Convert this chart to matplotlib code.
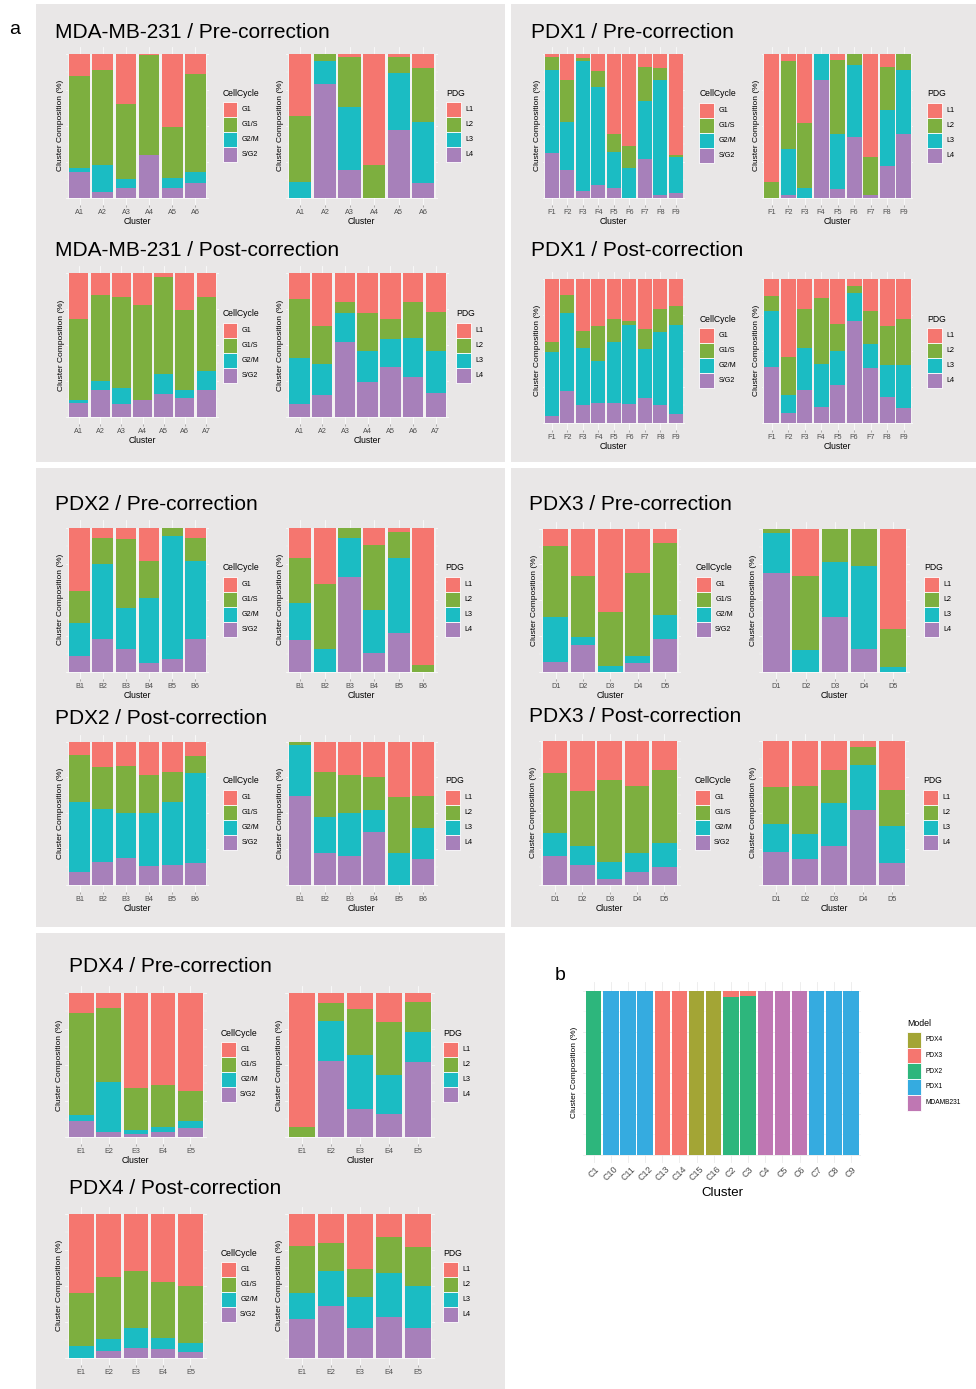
import numpy as np
import matplotlib
matplotlib.use('Agg')
import matplotlib.pyplot as plt
from matplotlib.patches import Rectangle

plt.rcParams['font.family'] = ['Liberation Sans', 'DejaVu Sans']

W, H = 976, 1389
fig = plt.figure(figsize=(W / 100, H / 100), dpi=100)
fig.patch.set_facecolor('white')

BOX = '#E9E7E7'
cc_names = ['G1', 'G1/S', 'G2/M', 'S/G2']
pdg_names = ['L1', 'L2', 'L3', 'L4']
pal4 = ['#F5766F', '#7DAF3F', '#1BBCC3', '#A780BA']

a6 = ['A1', 'A2', 'A3', 'A4', 'A5', 'A6']
a7 = a6 + ['A7']
f9 = ['F1', 'F2', 'F3', 'F4', 'F5', 'F6', 'F7', 'F8', 'F9']
b6 = ['B1', 'B2', 'B3', 'B4', 'B5', 'B6']
d5 = ['D1', 'D2', 'D3', 'D4', 'D5']
e5 = ['E1', 'E2', 'E3', 'E4', 'E5']

# composition (%) per cluster, order: G1, G1/S, G2/M, S/G2  or  L1, L2, L3, L4
mda_pre_cc = [[15, 64, 3, 18], [11, 66, 19, 4], [35, 52, 6, 7], [1, 69, 0, 30], [51, 35, 7, 7], [14, 68, 8, 10]]
mda_pre_pdg = [[43, 46, 11, 0], [0, 5, 16, 79], [2, 35, 44, 19], [77, 23, 0, 0], [2, 11, 40, 47], [10, 37, 43, 10]]
mda_post_cc = [[32, 56, 2, 10], [15, 60, 6, 19], [17, 63, 11, 9], [22, 66, 0, 12], [3, 67, 14, 16], [26, 55, 6, 13], [17, 51, 13, 19]]
mda_post_pdg = [[18, 41, 32, 9], [37, 26, 22, 15], [20, 8, 20, 52], [28, 26, 22, 24], [32, 14, 19, 35], [20, 25, 27, 28], [27, 27, 29, 17]]

pdx1_pre_cc = [[2, 9, 58, 31], [18, 29, 34, 19], [3, 2, 90, 5], [12, 11, 68, 9], [56, 12, 25, 7], [64, 15, 21, 0], [9, 24, 40, 27], [10, 8, 80, 2], [70, 2, 25, 3]]
pdx1_pre_pdg = [[89, 11, 0, 0], [5, 61, 32, 2], [48, 45, 7, 0], [0, 0, 18, 82], [4, 52, 38, 6], [0, 8, 50, 42], [72, 26, 0, 2], [9, 30, 39, 22], [0, 11, 45, 44]]
pdx1_post_cc = [[44, 7, 44, 5], [11, 13, 54, 22], [36, 12, 40, 12], [33, 24, 29, 14], [28, 16, 42, 14], [29, 3, 55, 13], [35, 14, 34, 17], [21, 16, 51, 12], [19, 13, 62, 6]]
pdx1_post_pdg = [[12, 10, 39, 39], [54, 27, 12, 7], [21, 27, 29, 23], [13, 46, 30, 11], [31, 19, 24, 26], [5, 5, 19, 71], [22, 23, 17, 38], [33, 27, 22, 18], [28, 32, 30, 10]]

pdx2_pre_cc = [[44, 22, 23, 11], [7, 18, 52, 23], [8, 48, 28, 16], [23, 26, 45, 6], [0, 6, 85, 9], [7, 16, 54, 23]]
pdx2_pre_pdg = [[21, 31, 26, 22], [39, 45, 16, 0], [0, 7, 27, 66], [12, 45, 30, 13], [3, 18, 52, 27], [95, 5, 0, 0]]
pdx2_post_cc = [[9, 33, 49, 9], [18, 29, 37, 16], [17, 33, 31, 19], [23, 27, 37, 13], [21, 21, 44, 14], [10, 12, 63, 15]]
pdx2_post_pdg = [[0, 2, 36, 62], [21, 32, 25, 22], [23, 27, 30, 20], [25, 23, 15, 37], [39, 39, 22, 0], [38, 22, 22, 18]]

pdx3_pre_cc = [[12, 50, 31, 7], [33, 43, 5, 19], [58, 38, 4, 0], [31, 58, 5, 6], [10, 50, 17, 23]]
pdx3_pre_pdg = [[0, 3, 28, 69], [33, 52, 15, 0], [0, 23, 39, 38], [0, 26, 58, 16], [70, 27, 3, 0]]
pdx3_post_cc = [[22, 42, 16, 20], [35, 38, 13, 14], [27, 57, 12, 4], [31, 47, 13, 9], [20, 51, 17, 12]]
pdx3_post_pdg = [[32, 26, 19, 23], [31, 34, 17, 18], [20, 23, 30, 27], [4, 13, 31, 52], [34, 25, 26, 15]]

pdx4_pre_cc = [[14, 71, 4, 11], [10, 52, 35, 3], [66, 29, 3, 2], [64, 29, 4, 3], [68, 21, 5, 6]]
pdx4_pre_pdg = [[93, 7, 0, 0], [7, 12, 28, 53], [11, 32, 38, 19], [20, 37, 27, 16], [6, 21, 21, 52]]
pdx4_post_cc = [[55, 37, 8, 0], [44, 43, 8, 5], [40, 39, 14, 7], [47, 39, 8, 6], [50, 40, 6, 4]]
pdx4_post_pdg = [[22, 33, 18, 27], [20, 20, 24, 36], [38, 20, 21, 21], [16, 25, 31, 28], [23, 27, 29, 21]]

# panel b
b_clusters = ['C1', 'C10', 'C11', 'C12', 'C13', 'C14', 'C15', 'C16', 'C2', 'C3', 'C4', 'C5', 'C6', 'C7', 'C8', 'C9']
b_models = ['PDX4', 'PDX3', 'PDX2', 'PDX1', 'MDAMB231']
b_colors = ['#A3A535', '#F5766F', '#2DB67C', '#35ABE0', '#BF77B3']
pdx4_share = [0, 0, 0, 0, 0, 0, 100, 100, 0, 0, 0, 0, 0, 0, 0, 0]
pdx3_share = [0, 0, 0, 0, 100, 100, 0, 0, 4, 3, 0, 0, 0, 0, 0, 0]
pdx2_share = [100, 0, 0, 0, 0, 0, 0, 0, 96, 97, 0, 0, 0, 0, 0, 0]
pdx1_share = [0, 100, 100, 100, 0, 0, 0, 0, 0, 0, 0, 0, 0, 100, 100, 100]
mdamb_share = [0, 0, 0, 0, 0, 0, 0, 0, 0, 0, 100, 100, 100, 0, 0, 0]


def px_axes(x0, x1, y0, y1, n):
    # x0..x1 / y0..y1: pixel extent of the bars, axes padded like ggplot
    ppu = (x1 - x0) / (n - 0.1)
    left, right = x0 - 0.15 * ppu, x1 + 0.15 * ppu
    h = y1 - y0
    top, bottom = y0 - 0.05 * h, y1 + 0.05 * h
    ax = fig.add_axes([left / W, 1 - bottom / H, (right - left) / W, (bottom - top) / H])
    ax.wpx = right - left
    return ax


def stacked(ax, labels, rows, colors, xlabel=True):
    vals = np.array(rows, dtype=float)
    vals = vals / vals.sum(axis=1, keepdims=True)
    x = np.arange(1, len(labels) + 1)
    # light strip behind each cluster so the gaps between bars read pale
    ax.bar(x, np.ones(len(labels)), 1.0, color='#F3F2F2', linewidth=0, zorder=1)
    bottom = np.zeros(len(labels))
    for j in range(vals.shape[1] - 1, -1, -1):
        ax.bar(x, vals[:, j], 0.9, bottom=bottom, color=colors[j], linewidth=0, zorder=2)
        bottom += vals[:, j]
    ax.set_xlim(0.4, len(labels) + 0.6)
    ax.set_ylim(-0.05, 1.05)
    ax.set_facecolor(BOX)
    for s in ax.spines.values():
        s.set_visible(False)
    ax.set_xticks(x)
    ax.set_xticklabels(labels, fontsize=5.2, color='#4D4D4D')
    ax.set_yticks([0, 0.25, 0.5, 0.75, 1])
    ax.set_yticks([0.125, 0.375, 0.625, 0.875], minor=True)
    ax.set_yticklabels([])
    ax.tick_params(axis='y', which='both', length=0)
    ax.tick_params(axis='x', length=1.5, width=0.4, color='#777777', pad=1.2)
    ax.set_axisbelow(True)
    ax.grid(True, which='major', color='white', lw=0.6, alpha=0.8)
    ax.grid(True, which='minor', axis='y', color='white', lw=0.3, alpha=0.8)
    ax.set_ylabel('Cluster Composition (%)', fontsize=6)
    ax.yaxis.set_label_coords(-1.5 / ax.wpx, 0.5)
    if xlabel:
        ax.set_xlabel('Cluster', fontsize=6.2, labelpad=0.8)


def legend(x, y, title, labels, colors, kw=14.7, kh=15, tsize=6.2, lsize=5.2):
    fig.text(x / W, 1 - y / H, title, fontsize=tsize, va='center', ha='left')
    ky = y + 9
    for i, (lab, c) in enumerate(zip(labels, colors)):
        fig.patches.append(Rectangle((x / W, 1 - (ky + (i + 1) * kh) / H), kw / W, kh / H,
                                     transform=fig.transFigure, facecolor=c,
                                     edgecolor='white', lw=0.6))
        fig.text((x + kw + 4.5) / W, 1 - (ky + (i + 0.5) * kh) / H, lab,
                 fontsize=lsize, va='center', ha='left')


# grey boxes of panel a
for bx0, by0, bx1, by1 in [(36, 4, 505, 462), (511, 4, 976, 462), (36, 468, 505, 927),
                           (511, 468, 976, 927), (36, 933, 505, 1389)]:
    fig.patches.append(Rectangle((bx0 / W, 1 - by1 / H), (bx1 - bx0) / W, (by1 - by0) / H,
                                 transform=fig.transFigure, facecolor=BOX, edgecolor='none', zorder=-5))

fig.text(15 / W, 1 - 30 / H, 'a', fontsize=14, ha='center', va='center')

panels = [
    ('MDA-MB-231 / Pre-correction', 55, 32, a6, mda_pre_cc, mda_pre_pdg,
     (69.3, 205.7), (289.3, 434.3), (54, 197.7), 222.7, 446, 93.3, True),
    ('MDA-MB-231 / Post-correction', 55, 251, a7, mda_post_cc, mda_post_pdg,
     (69.3, 215.7), (289.3, 446), (273, 417), 222.7, 456, 313.7, True),
    ('PDX1 / Pre-correction', 531, 32, f9, pdx1_pre_cc, pdx1_pre_pdg,
     (545, 682.7), (764.3, 911), (54, 197.7), 699.3, 927.3, 94, True),
    ('PDX1 / Post-correction', 531, 251, f9, pdx1_post_cc, pdx1_post_pdg,
     (545, 682.7), (764.3, 911), (279, 422.7), 699.3, 927.3, 319, True),
    ('PDX2 / Pre-correction', 55, 505, b6, pdx2_pre_cc, pdx2_pre_pdg,
     (69.3, 205.7), (289.3, 434.3), (527.7, 671.7), 222.7, 445, 567.7, True),
    ('PDX2 / Post-correction', 55, 718, b6, pdx2_post_cc, pdx2_post_pdg,
     (69.3, 205.7), (289.3, 434.3), (741.7, 884.7), 222.7, 445, 780.7, True),
    ('PDX3 / Pre-correction', 529, 505, d5, pdx3_pre_cc, pdx3_pre_pdg,
     (543.3, 677.3), (763.3, 906), (528.7, 671.7), 696, 924.3, 567.7, True),
    ('PDX3 / Post-correction', 529, 717, d5, pdx3_post_cc, pdx3_post_pdg,
     (542.7, 676.7), (763.3, 905), (741, 884.7), 695, 923.3, 780.7, True),
    ('PDX4 / Pre-correction', 69, 966, e5, pdx4_pre_cc, pdx4_pre_pdg,
     (69, 202.7), (289.3, 430.7), (993.3, 1136.7), 221, 443.3, 1033.3, True),
    ('PDX4 / Post-correction', 69, 1189, e5, pdx4_post_cc, pdx4_post_pdg,
     (69, 202.7), (289.3, 430.7), (1214, 1357.7), 221, 443.3, 1253.3, False),
]

for title, tx, ty, labs, cc, pdg, lx, rx, yy, ccx, pdgx, ly, showx in panels:
    fig.text(tx / W, 1 - ty / H, title, fontsize=15, ha='left', va='center')
    ax1 = px_axes(lx[0], lx[1], yy[0], yy[1], len(labs))
    stacked(ax1, labs, cc, pal4, showx)
    ax2 = px_axes(rx[0], rx[1], yy[0], yy[1], len(labs))
    stacked(ax2, labs, pdg, pal4, showx)
    legend(ccx, ly, 'CellCycle', cc_names, pal4)
    legend(pdgx, ly, 'PDG', pdg_names, pal4)

# panel b
fig.text(560 / W, 1 - 975 / H, 'b', fontsize=14, ha='center', va='center')
axb = px_axes(586, 858.7, 990.7, 1155, len(b_clusters))
xb = np.arange(1, len(b_clusters) + 1)
shares = {'PDX4': pdx4_share, 'PDX3': pdx3_share, 'PDX2': pdx2_share,
          'PDX1': pdx1_share, 'MDAMB231': mdamb_share}
bot = np.zeros(len(b_clusters))
for name, col in reversed(list(zip(b_models, b_colors))):
    v = np.array(shares[name]) / 100
    axb.bar(xb, v, 0.9, bottom=bot, color=col, linewidth=0, zorder=2)
    bot += v
axb.set_xlim(0.4, len(b_clusters) + 0.6)
axb.set_ylim(-0.05, 1.05)
for s in axb.spines.values():
    s.set_visible(False)
axb.set_xticks(xb)
axb.set_xticklabels(b_clusters, fontsize=6.5, rotation=45, ha='center', va='top', color='#4D4D4D')
axb.set_yticks([0, 0.25, 0.5, 0.75, 1])
axb.set_yticks([0.125, 0.375, 0.625, 0.875], minor=True)
axb.set_yticklabels([])
axb.tick_params(axis='both', which='both', length=0, pad=1)
axb.set_axisbelow(True)
axb.grid(True, which='major', color='#EBEBEB', lw=0.6)
axb.grid(True, which='minor', axis='y', color='#F2F2F2', lw=0.4)
axb.set_ylabel('Cluster Composition (%)', fontsize=6)
axb.yaxis.set_label_coords(-5 / axb.wpx, 0.5)
axb.set_xlabel('Cluster', fontsize=9.5, labelpad=3)
legend(907, 1023, 'Model', b_models, b_colors, kw=14, kh=15.7, tsize=6.3, lsize=4.8)

fig.savefig('out.png', dpi=100)
